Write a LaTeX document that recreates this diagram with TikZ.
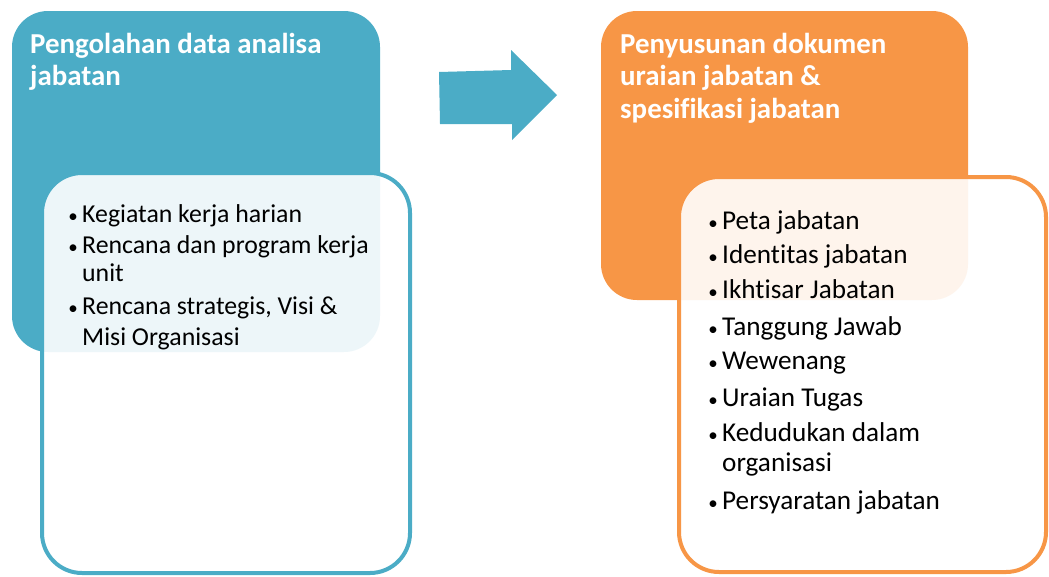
\documentclass[tikz,border=0pt]{standalone}
\usepackage{fontspec}
\setmainfont{Carlito}[Ligatures=NoCommon]
\definecolor{tealc}{HTML}{4BACC6}
\definecolor{orngc}{HTML}{F79646}
\begin{document}
\begin{tikzpicture}[x=1pt,y=-1pt,
  headbox/.style={rounded corners=36pt, inner sep=0pt, outer sep=0pt},
  listbox/.style={rounded corners=40pt, inner sep=0pt, outer sep=0pt, fill=white, fill opacity=0.9, line width=4pt},
  ttl/.style={anchor=base west, inner sep=0pt, font=\fontsize{28.9}{32}\selectfont\bfseries, text=white},
  txt/.style={anchor=base west, inner sep=0pt, font=\fontsize{25.8}{30}\selectfont, text=black},
  txtr/.style={txt, font=\fontsize{27.2}{30}\selectfont},
  bul/.style={anchor=base, inner sep=0pt, font=\fontsize{19}{20}\selectfont, text=black}]
\useasboundingbox (0,0) rectangle (1049,576);
% left group
\node[headbox, fill=tealc, minimum width=368pt, minimum height=341pt] (LH) at (196,181.5) {};
\node[listbox, draw=tealc, minimum width=368pt, minimum height=400pt] (LL) at (226,373) {};
\node[ttl] (lt1) at (30,53) {Pengolahan data analisa};
\node[ttl] (lt2) at (30,85) {jabatan};
\node[bul] (lb1) at (73,222) {\textbullet};
\node[txt] (la1) at (82,222) {Kegiatan kerja harian};
\node[bul] (lb2) at (73,253) {\textbullet};
\node[txt] (la2) at (82,253) {Rencana dan program kerja};
\node[txt] (la2b) at (82,281) {unit};
\node[bul] (lb3) at (73,314) {\textbullet};
\node[txt] (la3) at (82,314) {Rencana strategis, Visi \&};
\node[txt] (la3b) at (82,345) {Misi Organisasi};
% arrow
\fill[tealc] (439,72) -- (511,70) -- (511,50) -- (557,95) -- (512,140) -- (512,124) -- (440,124) -- cycle;
% right group
\node[headbox, fill=orngc, minimum width=367pt, minimum height=289pt] (RH) at (784.5,155.5) {};
\node[listbox, draw=orngc, minimum width=367pt, minimum height=395pt] (RL) at (862.5,374.5) {};
\node[ttl] (rt1) at (620,53) {Penyusunan dokumen};
\node[ttl] (rt2) at (620,85) {uraian jabatan \&};
\node[ttl] (rt3) at (620,118) {spesifikasi jabatan};
\node[bul] (rb1) at (713,229) {\textbullet};
\node[txtr] (ra1) at (722,229) {Peta jabatan};
\node[bul] (rb2) at (713,263) {\textbullet};
\node[txtr] (ra2) at (722,263) {Identitas jabatan};
\node[bul] (rb3) at (713,298) {\textbullet};
\node[txtr] (ra3) at (722,298) {Ikhtisar Jabatan};
\node[bul] (rb4) at (713,335) {\textbullet};
\node[txtr] (ra4) at (722,335) {Tanggung Jawab};
\node[bul] (rb5) at (713,369) {\textbullet};
\node[txtr] (ra5) at (722,369) {Wewenang};
\node[bul] (rb6) at (713,406) {\textbullet};
\node[txtr] (ra6) at (722,406) {Uraian Tugas};
\node[bul] (rb7) at (713,441) {\textbullet};
\node[txtr] (ra7) at (722,441) {Kedudukan dalam};
\node[txtr] (ra7b) at (722,471) {organisasi};
\node[bul] (rb8) at (713,509) {\textbullet};
\node[txtr] (ra8) at (722,509) {Persyaratan jabatan};
\end{tikzpicture}
\end{document}
